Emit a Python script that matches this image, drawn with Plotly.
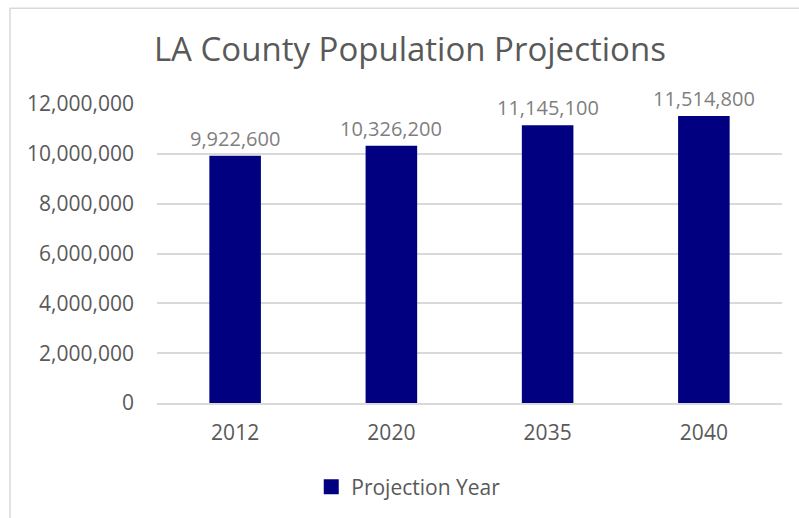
import plotly.graph_objects as go

# Population projections for LA County
years = ["2012", "2020", "2035", "2040"]
population = [9922600, 10326200, 11145100, 11514800]
y_ticks = [0, 2000000, 4000000, 6000000, 8000000, 10000000, 12000000]
y_tick_labels = [f"{v:,}" for v in y_ticks]

BAR_COLOR = "#000080"
TEXT_DARK = "#595959"
TEXT_LIGHT = "#7f7f7f"
FONT = "'Open Sans', Lato, sans-serif"

fig = go.Figure()
fig.add_trace(go.Bar(
    x=years,
    y=population,
    name="Projection Year",
    marker=dict(color=BAR_COLOR, line=dict(width=0)),
    width=0.33,
    showlegend=False,
))

# legend entry with a larger square swatch
fig.add_trace(go.Scatter(
    x=[None], y=[None], mode="markers", name="Projection Year",
    marker=dict(symbol="square", size=15, color=BAR_COLOR),
    showlegend=True,
))

# value labels above each bar (category index positions)
for i, val in enumerate(population):
    fig.add_annotation(
        x=i, y=val, text=f"{val:,}", showarrow=False,
        yanchor="bottom", yshift=2,
        font=dict(family=FONT, size=20, color=TEXT_LIGHT),
    )

# light chart-area frame
fig.add_shape(
    type="rect", xref="paper", yref="paper",
    x0=-0.2352, x1=1.2, y0=-0.6, y1=1.32,
    line=dict(color="#d9d9d9", width=1.5), fillcolor="rgba(0,0,0,0)",
    layer="below",
)

fig.update_layout(
    width=799, height=518,
    margin=dict(l=157, r=17, t=104, b=114),
    paper_bgcolor="white", plot_bgcolor="white",
    font=dict(family=FONT, color=TEXT_DARK),
    title=dict(
        text="LA County Population Projections",
        x=0.513, xanchor="center", y=0.905, yanchor="middle",
        font=dict(family=FONT, size=33, color=TEXT_DARK),
    ),
    showlegend=True,
    legend=dict(
        orientation="h", x=0.402, xanchor="center", y=-0.277, yanchor="middle",
        font=dict(family=FONT, size=21, color=TEXT_DARK),
    ),
)

fig.update_xaxes(
    type="category", categoryorder="array", categoryarray=years,
    range=[-0.5, len(years) - 0.5],
    showline=True, linecolor="#d9d9d9", linewidth=1.5,
    ticks="", tickfont=dict(family=FONT, size=21, color=TEXT_DARK),
    ticklabelstandoff=10, showgrid=False,
)
fig.update_yaxes(
    range=[0, 12000000], tickvals=y_ticks, ticktext=y_tick_labels,
    showgrid=True, gridcolor="#d9d9d9", gridwidth=1.5,
    zeroline=False, showline=False, ticks="",
    tickfont=dict(family=FONT, size=21, color=TEXT_DARK),
    ticklabelstandoff=22,
)

fig.write_html("out.html")
